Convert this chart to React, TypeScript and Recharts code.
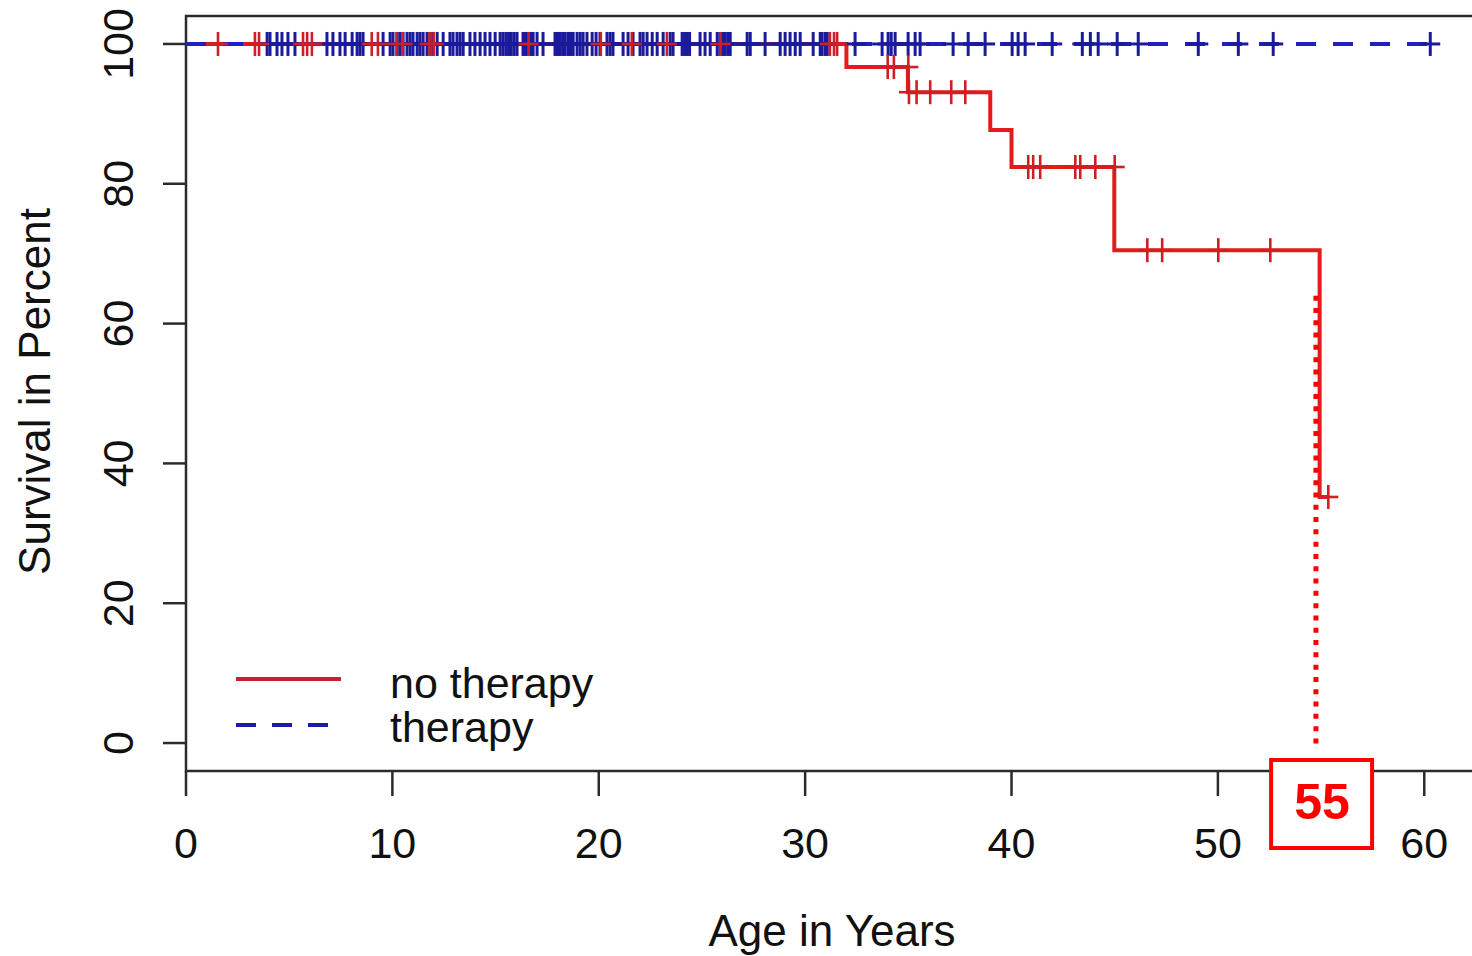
import React from 'react';
import {
  ComposedChart,
  Line,
  Scatter,
  XAxis,
  YAxis,
  ReferenceArea,
  ReferenceLine,
  ReferenceDot,
  Legend,
} from 'recharts';

const FONT = '"Liberation Sans", Arial, Helvetica, sans-serif';
const RED = '#e41b1b';
const RED_MARK = '#cf1f25';
const BLUE = '#1f1fc4';
const BLUE_MARK = '#1a1a9a';
const AXIS = '#2b2b2b';

// ---- data ----
const xTicks = [0, 10, 20, 30, 40, 50, 60];
const yTicks = [0, 20, 40, 60, 80, 100];

// Kaplan-Meier step curve, group "no therapy"
const noTherapyCurve = [
  { x: 0, y: 100 },
  { x: 32.0, y: 96.7 },
  { x: 34.98, y: 93.1 },
  { x: 38.97, y: 87.7 },
  { x: 40.0, y: 82.4 },
  { x: 44.98, y: 70.5 },
  { x: 54.93, y: 35.2 },
  { x: 55.35, y: 35.2 },
];

// group "therapy": no events
const therapyCurve = [
  { x: 0, y: 100 },
  { x: 60.29, y: 100 },
];

// censored times, "no therapy" (at 100%)
const noTherapyCensor100 = [
  1.55, 3.34, 3.54, 5.67, 5.87, 6.1, 9.0, 9.3, 10.2, 10.5, 11.8, 12.0, 16.6,
  20.1, 21.6, 23.3, 25.9, 31.2, 31.4, 31.55,
];
// censored times after first event, "no therapy"
const noTherapyCensorTimes = [
  34.0, 34.3, 35.0, 35.03, 35.4, 36.06, 37.08, 37.76, 40.81, 41.05, 41.39,
  43.09, 43.33, 44.06, 45.0, 46.58, 47.3, 50.02, 52.54, 55.35,
];
const noTherapyCensorLevels = [
  96.7, 96.7, 96.7, 93.1, 93.1, 93.1, 93.1, 93.1, 82.4, 82.4, 82.4, 82.4, 82.4,
  82.4, 82.4, 70.5, 70.5, 70.5, 70.5, 35.2,
];

// censored times, "therapy" (all at 100%)
const therapyCensor = [
  3.93, 4.07, 4.41, 4.65, 4.94, 5.28, 6.83, 7.12, 7.46, 7.71, 8.05, 8.29, 8.43,
  8.58, 9.55, 9.89, 10.03, 10.23, 10.37, 10.52, 10.71, 10.86, 11.0, 11.2, 11.34,
  11.49, 11.68, 11.83, 11.97, 12.17, 12.46, 12.79, 12.94, 13.13, 13.28, 13.43,
  13.76, 14.0, 14.25, 14.49, 14.73, 14.98, 15.22, 15.36, 15.5, 15.63, 15.76,
  15.9, 16.04, 16.33, 16.45, 16.57, 16.7, 16.82, 17.01, 17.3, 17.88, 18.0,
  18.12, 18.25, 18.37, 18.51, 18.63, 18.76, 18.95, 19.1, 19.24, 19.43, 19.68,
  19.87, 20.06, 20.4, 20.55, 20.69, 21.18, 21.42, 21.66, 22.0, 22.15, 22.34,
  22.59, 22.83, 23.12, 23.46, 23.6, 24.04, 24.16, 24.28, 24.4, 24.91, 25.15,
  25.4, 25.74, 25.88, 26.0, 26.12, 26.25, 26.37, 27.19, 27.34, 28.06, 28.79,
  29.03, 29.27, 29.52, 29.76, 30.39, 30.73, 30.82, 30.97, 31.07, 32.42, 33.73,
  34.02, 34.17, 34.36, 34.99, 35.33, 35.57, 37.17, 37.9, 38.72, 40.03, 40.32,
  40.66, 41.97, 43.43, 43.82, 44.2, 45.12, 46.14, 49.05, 50.99, 52.68, 60.29,
];

const medianMarker = 55;
const medianLineX = 54.75;
const medianLineTop = 64;

const noTherapyMarks = [
  ...noTherapyCensor100.map((x) => ({ x, y: 100 })),
  ...noTherapyCensorTimes.map((x, i) => ({ x, y: noTherapyCensorLevels[i] })),
];
const therapyMarks = therapyCensor.map((x) => ({ x, y: 100 }));

const X_DOMAIN: [number, number] = [0, 62.7];
const Y_DOMAIN: [number, number] = [-4, 104];

const makePlus = (color: string, w: number) => (props: any) => {
  const { cx, cy } = props;
  if (cx == null || cy == null) return <g />;
  return (
    <g stroke={color} strokeWidth={w}>
      <line x1={cx - 10} x2={cx + 10} y1={cy} y2={cy} />
      <line x1={cx} x2={cx} y1={cy - 12} y2={cy + 12} />
    </g>
  );
};

const XTick = (props: any) => {
  const { x, y, payload } = props;
  return (
    <text x={x} y={y + 62} textAnchor="middle" fontSize={43} fontFamily={FONT} fill="#111">
      {payload.value}
    </text>
  );
};

const YTick = (props: any) => {
  const { x, y, payload } = props;
  return (
    <text
      transform={`translate(${x - 30},${y}) rotate(-90)`}
      textAnchor="middle"
      fontSize={43}
      fontFamily={FONT}
      fill="#111"
    >
      {payload.value}
    </text>
  );
};

const LegendBox = () => (
  <svg width={420} height={110} style={{ display: 'block' }}>
    <line x1={6} x2={111} y1={29} y2={29} stroke="#c8202c" strokeWidth={4} />
    <line x1={6} x2={104} y1={75} y2={75} stroke="#1c1caa" strokeWidth={4} strokeDasharray="20 16" />
    <text x={160} y={48} fontSize={43} fontFamily={FONT} fill="#111">
      no therapy
    </text>
    <text x={160} y={92} fontSize={43} fontFamily={FONT} fill="#111">
      therapy
    </text>
  </svg>
);

const MedianBox = (props: any) => {
  const { cx, cy } = props;
  return (
    <g>
      <rect x={cx - 50} y={cy - 11} width={101} height={88} fill="#fff" stroke="#ff0000" strokeWidth={4} />
      <text
        x={cx + 1}
        y={cy + 48}
        textAnchor="middle"
        fontSize={50}
        fontWeight="bold"
        fontFamily={FONT}
        fill="#ff0000"
      >
        {medianMarker}
      </text>
    </g>
  );
};

export default function App() {
  return (
    <div
      style={{
        position: 'absolute',
        left: 0,
        top: 0,
        width: 1472,
        height: 956,
        overflow: 'hidden',
        background: '#fff',
      }}
    >
      <ComposedChart
        width={1490}
        height={956}
        margin={{ top: 16, right: 10, bottom: 0, left: 0 }}
      >
        <XAxis
          type="number"
          dataKey="x"
          domain={X_DOMAIN}
          allowDataOverflow
          ticks={xTicks}
          interval={0}
          height={185}
          tickSize={25}
          tickMargin={0}
          axisLine={false}
          tickLine={{ stroke: AXIS, strokeWidth: 2.5 }}
          tick={<XTick />}
          label={{
            value: 'Age in Years',
            content: (p: any) => {
              const vb = p.viewBox || {};
              return (
                <text
                  x={vb.x + vb.width / 2 - 1}
                  y={vb.y + 175}
                  textAnchor="middle"
                  fontSize={44}
                  fontFamily={FONT}
                  fill="#111"
                >
                  Age in Years
                </text>
              );
            },
          }}
        />
        <YAxis
          type="number"
          dataKey="y"
          domain={Y_DOMAIN}
          allowDataOverflow
          ticks={yTicks}
          interval={0}
          width={186}
          tickSize={23}
          tickMargin={0}
          axisLine={false}
          tickLine={{ stroke: AXIS, strokeWidth: 2.5 }}
          tick={<YTick />}
          label={{
            value: 'Survival in Percent',
            content: (p: any) => {
              const vb = p.viewBox || {};
              return (
                <text
                  transform={`translate(${vb.x + 50},${vb.y + vb.height / 2 - 2}) rotate(-90)`}
                  textAnchor="middle"
                  fontSize={44}
                  fontFamily={FONT}
                  fill="#111"
                >
                  Survival in Percent
                </text>
              );
            },
          }}
        />
        <ReferenceArea
          x1={X_DOMAIN[0]}
          x2={X_DOMAIN[1]}
          y1={Y_DOMAIN[0]}
          y2={Y_DOMAIN[1]}
          fill="none"
          stroke={AXIS}
          strokeWidth={2.5}
          ifOverflow="visible"
        />
        <Line
          data={noTherapyCurve}
          dataKey="y"
          type="stepAfter"
          stroke={RED}
          strokeWidth={4}
          dot={false}
          activeDot={false}
          isAnimationActive={false}
        />
        <Line
          data={therapyCurve}
          dataKey="y"
          type="stepAfter"
          stroke={BLUE}
          strokeWidth={4}
          strokeDasharray="20 17"
          dot={false}
          activeDot={false}
          isAnimationActive={false}
        />
        <Scatter
          data={therapyMarks}
          dataKey="y"
          shape={makePlus(BLUE_MARK, 3)}
          isAnimationActive={false}
        />
        <Scatter
          data={noTherapyMarks}
          dataKey="y"
          shape={makePlus(RED_MARK, 2.6)}
          isAnimationActive={false}
        />
        <ReferenceLine
          segment={[
            { x: medianLineX, y: medianLineTop },
            { x: medianLineX, y: -0.3 },
          ]}
          stroke="#ff0000"
          strokeWidth={5}
          strokeDasharray="5 7.3"
          ifOverflow="visible"
        />
        <ReferenceDot
          x={medianMarker}
          y={Y_DOMAIN[0]}
          r={1}
          ifOverflow="visible"
          shape={<MedianBox />}
        />
        <Legend
          layout="horizontal"
          verticalAlign="middle"
          align="center"
          content={() => <LegendBox />}
          wrapperStyle={{ position: 'absolute', left: 230, top: 650, width: 420, height: 110 }}
        />
      </ComposedChart>
    </div>
  );
}
